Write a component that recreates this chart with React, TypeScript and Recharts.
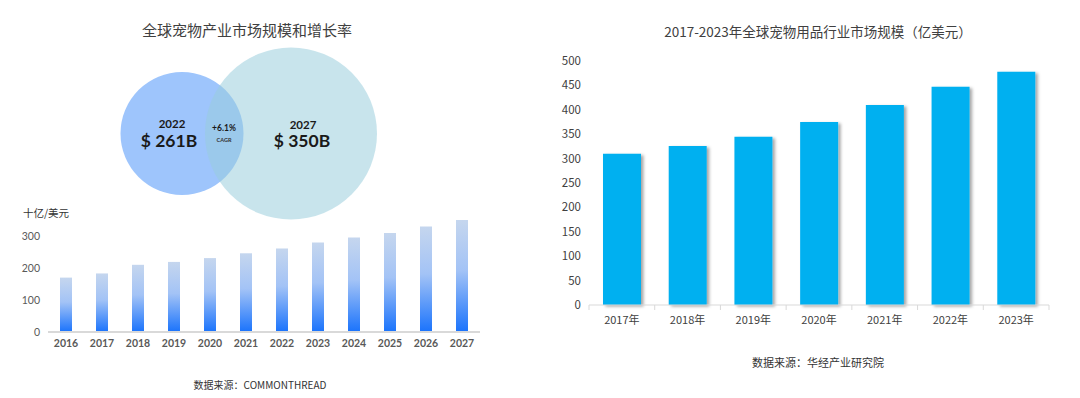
import React from 'react';
import { BarChart, Bar, XAxis, YAxis } from 'recharts';

// ---- Data ----
const leftYears = ['2016', '2017', '2018', '2019', '2020', '2021', '2022', '2023', '2024', '2025', '2026', '2027'];
const leftValues = [170, 183, 210, 219, 231, 246, 261, 280, 295, 309, 330, 350];
const leftTicks = [0, 100, 200, 300];

const rightYears = ['2017年', '2018年', '2019年', '2020年', '2021年', '2022年', '2023年'];
const rightValues = [310, 326, 345, 375, 410, 447, 478];
const rightTicks = [0, 50, 100, 150, 200, 250, 300, 350, 400, 450, 500];

const circleYears = ['2022', '2027'];
const circleLabels = ['$ 261B', '$ 350B'];
const cagrLabel = '+6.1%';

const leftData = leftYears.map((y, i) => ({ year: y, value: leftValues[i] }));
const rightData = rightYears.map((y, i) => ({ year: y, value: rightValues[i] }));

const CJK = '"Noto Sans CJK SC", "Noto Sans", sans-serif';
const LAT = 'Lato, "Noto Sans", sans-serif';

const R_W = 540;
const R_YW = 49;
const R_MR = 31;
const R_BW = (R_W - R_YW - R_MR) / rightYears.length;

const RightTick = (props: any) => {
  const { x, y, payload, index } = props;
  const last = index === rightYears.length - 1;
  return (
    <g>
      <line x1={x - R_BW / 2} x2={x - R_BW / 2} y1={y} y2={y + 5} stroke="#d9d9d9" strokeWidth={1} />
      {last && <line x1={x + R_BW / 2} x2={x + R_BW / 2} y1={y} y2={y + 5} stroke="#d9d9d9" strokeWidth={1} />}
      <text x={x} y={y + 19} textAnchor="middle" fill="#404040" fontSize={11} fontFamily={CJK}>
        {payload.value}
      </text>
    </g>
  );
};

export default function App() {
  return (
    <div style={{ position: 'absolute', left: 0, top: 0, width: 1080, height: 398, background: '#fff', overflow: 'hidden' }}>
      {/* Left title */}
      <div style={{ position: 'absolute', left: 0, width: 494, top: 20, textAlign: 'center', fontFamily: CJK, fontSize: 15, color: '#404040', lineHeight: '20px' }}>
        全球宠物产业市场规模和增长率
      </div>

      {/* Circles */}
      <svg style={{ position: 'absolute', left: 0, top: 0 }} width={540} height={240}>
        <circle cx={182} cy={133.5} r={61.5} fill="#9ec5fc" />
        <circle cx={291} cy={133.5} r={86} fill="rgb(154,206,220)" fillOpacity={0.54} />
        <text x={172} y={128} textAnchor="middle" fontFamily={LAT} fontWeight="bold" fontSize={11.5} fill="#1a1a1a">{circleYears[0]}</text>
        <text x={169} y={147} textAnchor="middle" fontFamily={LAT} fontWeight="bold" fontSize={17.5} fill="#1a1a1a">{circleLabels[0]}</text>
        <text x={224} y={131} textAnchor="middle" fontFamily={LAT} fontWeight="bold" fontSize={8.5} fill="#1a1a1a">{cagrLabel}</text>
        <text x={224} y={142} textAnchor="middle" fontFamily={LAT} fontWeight="bold" fontSize={5.5} fill="#333">CAGR</text>
        <text x={303} y={129} textAnchor="middle" fontFamily={LAT} fontWeight="bold" fontSize={11.5} fill="#1a1a1a">{circleYears[1]}</text>
        <text x={302} y={147} textAnchor="middle" fontFamily={LAT} fontWeight="bold" fontSize={17.5} fill="#1a1a1a">{circleLabels[1]}</text>
      </svg>

      {/* Left unit label */}
      <div style={{ position: 'absolute', left: 23, top: 205, fontFamily: CJK, fontSize: 10.5, color: '#333', lineHeight: '16px' }}>
        十亿/美元
      </div>

      {/* Left bar chart */}
      <div style={{ position: 'absolute', left: 0, top: 200 }}>
        <BarChart width={500} height={160} data={leftData} margin={{ top: 20, right: 20, bottom: 0, left: 0 }}>
          <defs>
            <linearGradient id="leftGrad" x1="0" y1="0" x2="0" y2="1">
              <stop offset="0%" stopColor="#c5d6ee" />
              <stop offset="45%" stopColor="#a3c3f6" />
              <stop offset="100%" stopColor="#1a73fc" />
            </linearGradient>
          </defs>
          <XAxis
            dataKey="year"
            height={28}
            tickLine={false}
            axisLine={{ stroke: '#d9d9d9', strokeWidth: 2 }}
            tick={{ fill: '#595959', fontSize: 10.5, fontWeight: 'bold', fontFamily: LAT }}
            interval={0}
          />
          <YAxis
            width={48}
            domain={[0, 350]}
            ticks={leftTicks}
            axisLine={false}
            tickLine={false}
            tick={{ fill: '#595959', fontSize: 10.5, fontFamily: LAT }}
          />
          <Bar dataKey="value" fill="url(#leftGrad)" barSize={12} isAnimationActive={false} />
        </BarChart>
      </div>

      {/* Left source */}
      <div style={{ position: 'absolute', left: 160, width: 200, top: 377, textAlign: 'center', fontFamily: CJK, fontSize: 10, color: '#333', lineHeight: '16px' }}>
        数据来源：COMMONTHREAD
      </div>

      {/* Right title */}
      <div style={{ position: 'absolute', left: 540, width: 556, top: 21, textAlign: 'center', fontFamily: CJK, fontSize: 13.5, color: '#404040', lineHeight: '20px' }}>
        2017-2023年全球宠物用品行业市场规模（亿美元）
      </div>

      {/* Right bar chart */}
      <div style={{ position: 'absolute', left: 540, top: 40 }}>
        <BarChart width={R_W} height={300} data={rightData} margin={{ top: 21, right: R_MR, bottom: 0, left: 0 }}>
          <defs>
            <filter id="barShadow" x="-20%" y="-20%" width="150%" height="140%">
              <feDropShadow dx={2.5} dy={1.5} stdDeviation={1.6} floodColor="#000" floodOpacity={0.35} />
            </filter>
          </defs>
          <XAxis
            dataKey="year"
            height={35}
            tickSize={0}
            tickMargin={0}
            tickLine={false}
            axisLine={{ stroke: '#d9d9d9', strokeWidth: 1 }}
            tick={<RightTick />}
            interval={0}
          />
          <YAxis
            width={R_YW}
            domain={[0, 500]}
            ticks={rightTicks}
            axisLine={false}
            tickLine={false}
            tick={{ fill: '#404040', fontSize: 11.5, fontFamily: CJK }}
            interval={0}
          />
          <Bar dataKey="value" fill="#00b0f0" barSize={38} isAnimationActive={false} style={{ filter: 'url(#barShadow)' }} />
        </BarChart>
      </div>

      {/* Right source */}
      <div style={{ position: 'absolute', left: 540, width: 556, top: 354, textAlign: 'center', fontFamily: CJK, fontSize: 11, color: '#333', lineHeight: '16px' }}>
        数据来源：华经产业研究院
      </div>
    </div>
  );
}
